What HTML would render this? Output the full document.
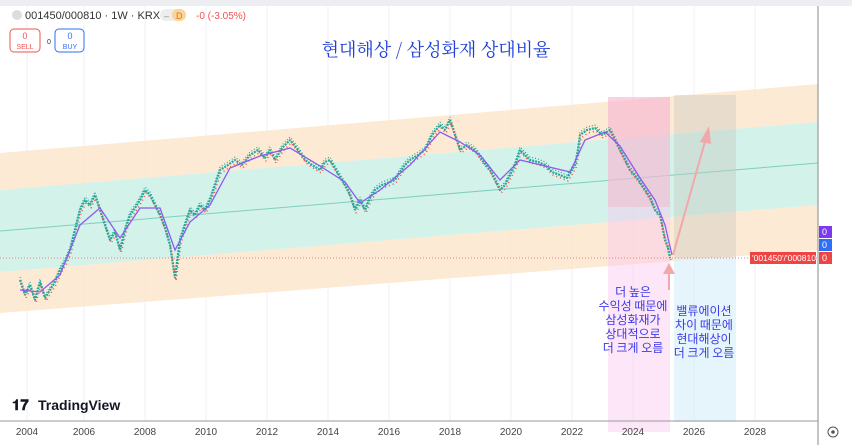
<!DOCTYPE html>
<html><head><meta charset="utf-8"><style>
body{margin:0;width:852px;height:445px;background:#fff;overflow:hidden;font-family:"Liberation Sans","Noto Sans CJK KR",sans-serif}
</style></head><body>
<svg width="852" height="445" xmlns="http://www.w3.org/2000/svg" style="position:absolute;left:0;top:0">
<defs><polyline id="p" fill="none" stroke-linejoin="bevel" points="20,280 25,295 30,285 35,300 40,282 45,298 50,290 55,282 60,270 65,262 70,250 75,230 80,210 85,200 90,205 95,195 100,210 105,225 110,240 115,232 120,250 125,230 130,215 135,208 140,200 145,190 150,195 155,205 160,215 165,228 170,245 173,265 175,278 178,255 180,240 185,225 190,210 195,215 200,205 205,210 210,200 215,185 220,170 228,165 235,160 242,165 250,155 258,150 265,158 270,150 275,160 282,148 290,140 298,150 305,160 312,165 320,170 325,162 330,160 337,172 345,185 350,195 355,210 360,200 365,210 370,198 375,190 382,185 390,182 395,180 400,172 405,165 410,160 418,155 425,150 432,135 440,125 445,130 450,120 455,135 460,150 467,145 475,150 482,160 490,170 495,180 500,190 505,185 510,175 515,165 520,150 525,155 530,160 538,162 545,165 552,172 560,175 567,178 575,165 578,150 580,135 587,130 595,128 602,135 610,130 615,140 620,150 625,160 630,170 637,178 645,190 650,198 655,210 660,215 665,240 668,248 670,258"/></defs>
<rect x="0" y="0" width="852" height="445" fill="#fff"/>
<rect x="0" y="0" width="852" height="6" fill="#eceef2"/>
<g stroke="#f0f2f5" stroke-width="1">
<line x1="27" y1="6" x2="27" y2="421"/><line x1="84" y1="6" x2="84" y2="421"/><line x1="145" y1="6" x2="145" y2="421"/><line x1="206" y1="6" x2="206" y2="421"/><line x1="267" y1="6" x2="267" y2="421"/><line x1="328" y1="6" x2="328" y2="421"/><line x1="389" y1="6" x2="389" y2="421"/><line x1="450" y1="6" x2="450" y2="421"/><line x1="511" y1="6" x2="511" y2="421"/><line x1="572" y1="6" x2="572" y2="421"/><line x1="633" y1="6" x2="633" y2="421"/><line x1="694" y1="6" x2="694" y2="421"/><line x1="755" y1="6" x2="755" y2="421"/>
</g>
<polygon points="0,153 818,84 818,122 0,190" fill="#fde6cc" opacity="0.85"/>
<polygon points="0,190 818,122 818,205 0,272" fill="#cdf1e8" opacity="0.9"/>
<polygon points="0,272 818,205 818,250 0,313" fill="#fde6cc" opacity="0.85"/>
<line x1="0" y1="231" x2="818" y2="163" stroke="#7fcfc0" stroke-width="1"/>
<rect x="608" y="97" width="62" height="335" fill="#f8c8f0" opacity="0.45"/>
<rect x="608" y="97" width="62" height="110" fill="#f8b0c0" opacity="0.4"/>
<rect x="674" y="95" width="62" height="163" fill="#c8c8c0" opacity="0.4"/>
<rect x="674" y="258" width="62" height="164" fill="#d6eef8" opacity="0.6"/>
<line x1="0" y1="258" x2="818" y2="258" stroke="#f08080" stroke-width="1" stroke-dasharray="1,2"/>
<use href="#p" stroke="#26a69a" stroke-width="2.2" stroke-dasharray="2,1"/>
<use href="#p" stroke="#ef5350" stroke-width="1.6" stroke-dasharray="1,3" transform="translate(1,3)"/>
<use href="#p" stroke="#26a69a" stroke-width="1.2" stroke-dasharray="1,2" transform="translate(0,-3)"/>
<polyline fill="none" stroke="#8a5cf0" stroke-width="1.3" points="20,290 40,292 60,275 80,225 100,208 120,238 140,208 160,208 175,250 190,222 210,205 230,168 260,156 290,148 320,166 345,182 360,203 380,190 410,165 440,132 460,142 480,155 500,180 520,160 545,166 570,172 585,140 605,132 620,146 640,178 655,200 665,225 672,255"/>
<line x1="673" y1="255" x2="706" y2="138" stroke="#f0a8a8" stroke-width="2"/>
<polygon points="709,126 700,142 711,144" fill="#f0a8a8"/>
<line x1="669" y1="290" x2="669" y2="272" stroke="#f0a8a8" stroke-width="2"/>
<polygon points="669,263 663,274 675,274" fill="#f0a8a8"/>
<line x1="818" y1="6" x2="818" y2="445" stroke="#888" stroke-width="1"/>
<line x1="0" y1="421" x2="818" y2="421" stroke="#999" stroke-width="1"/>
<rect x="819" y="226" width="13" height="12" fill="#7c3aed"/>
<rect x="819" y="239" width="13" height="12" fill="#2f6ef8"/>
<rect x="819" y="252" width="13" height="12" fill="#ef4444"/>
<rect x="750" y="252" width="66" height="12" fill="#ef4444"/>
<g fill="#fff" font-size="9"><text x="822" y="235">0</text><text x="822" y="248">0</text><text x="822" y="261">0</text><text x="752" y="261" font-size="8.5">'001450'/'000810'</text></g>
<g fill="#444" font-size="10" text-anchor="middle"><text x="27" y="435">2004</text><text x="84" y="435">2006</text><text x="145" y="435">2008</text><text x="206" y="435">2010</text><text x="267" y="435">2012</text><text x="328" y="435">2014</text><text x="389" y="435">2016</text><text x="450" y="435">2018</text><text x="511" y="435">2020</text><text x="572" y="435">2022</text><text x="633" y="435">2024</text><text x="694" y="435">2026</text><text x="755" y="435">2028</text></g>
<circle cx="833" cy="432" r="5" fill="none" stroke="#555"/><circle cx="833" cy="432" r="1.8" fill="#555"/>
<circle cx="17" cy="15" r="5" fill="#ddd"/>
<text x="25" y="19" font-size="11" fill="#333">001450/000810 · 1W · KRX</text>
<rect x="160" y="9" width="26" height="12" rx="6" fill="#eee"/><rect x="172" y="9" width="14" height="12" rx="6" fill="#fcd39a"/>
<text x="176" y="19" font-size="9" fill="#e07b00">D</text><text x="164" y="19" font-size="9" fill="#888">–</text>
<text x="196" y="19" font-size="10" fill="#ef5350">-0 (-3.05%)</text>
<rect x="10" y="29" width="30" height="23" rx="4" fill="#fff" stroke="#ef5350"/>
<text x="25" y="39" font-size="9" fill="#ef5350" text-anchor="middle">0</text><text x="25" y="49" font-size="7" fill="#ef5350" text-anchor="middle">SELL</text>
<text x="47" y="44" font-size="7" fill="#333">0</text>
<rect x="55" y="29" width="29" height="23" rx="4" fill="#fff" stroke="#2f6ef8"/>
<text x="70" y="39" font-size="9" fill="#2f6ef8" text-anchor="middle">0</text><text x="70" y="49" font-size="7" fill="#2f6ef8" text-anchor="middle">BUY</text>
<text x="436" y="56" font-size="18" fill="#1f3fd8" text-anchor="middle" font-family="Noto Serif CJK KR, Noto Sans CJK KR, serif">현대해상 / 삼성화재 상대비율</text>
<g fill="#3a3ae8" font-size="12" text-anchor="middle" font-family="Noto Sans CJK KR, sans-serif">
<text x="633" y="296">더 높은</text><text x="633" y="310">수익성 때문에</text><text x="633" y="324">삼성화재가</text><text x="633" y="338">상대적으로</text><text x="633" y="352">더 크게 오름</text>
<text x="704" y="315">밸류에이션</text><text x="704" y="329">차이 때문에</text><text x="704" y="343">현대해상이</text><text x="704" y="357">더 크게 오름</text>
</g>
<text x="12" y="410" font-size="15" font-weight="bold" fill="#131722">𝟏𝟕</text>
<text x="38" y="410" font-size="14" font-weight="bold" fill="#131722">TradingView</text>
</svg>
</body></html>
